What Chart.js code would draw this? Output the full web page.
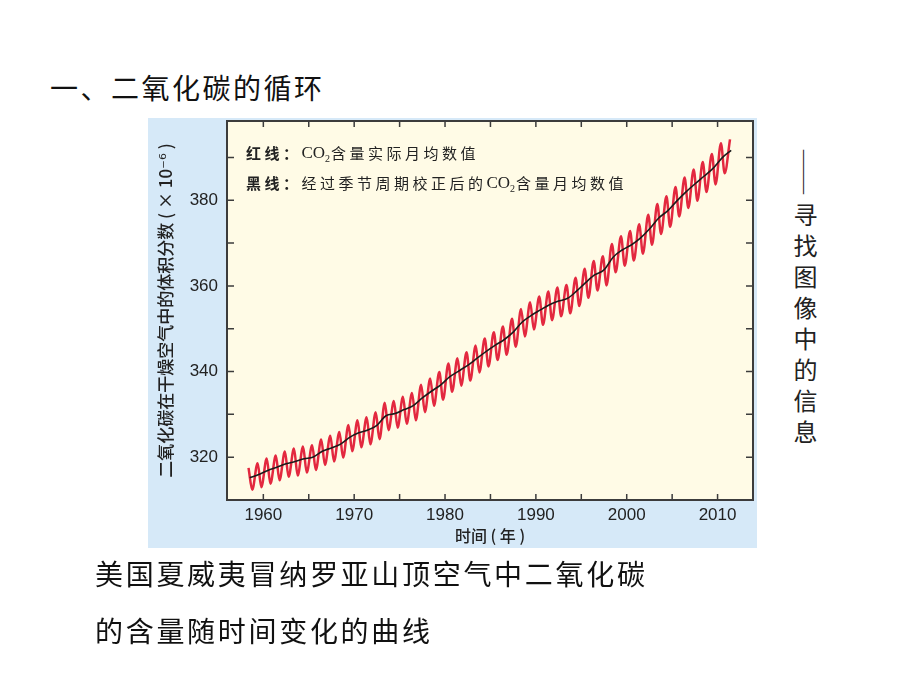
<!DOCTYPE html>
<html lang="zh">
<head>
<meta charset="utf-8">
<title>二氧化碳的循环</title>
<script src="https://cdn.jsdelivr.net/npm/chart.js@4.4.1/dist/chart.umd.min.js"></script>
<style>
  body { margin: 0; width: 920px; height: 690px; background: #fff; position: relative; overflow: hidden;
         font-family: "Noto Sans CJK SC", sans-serif; color: #111; }
  #title { position: absolute; left: 50px; top: 68px; font-size: 28px; letter-spacing: 2.5px; line-height: 38px; white-space: nowrap; }
  #panel { position: absolute; left: 148px; top: 118px; width: 609px; height: 430px; background: #d6e9f8; }
  #side { position: absolute; left: 788px; top: 148px; writing-mode: vertical-rl; font-size: 24px;
          letter-spacing: 7px; color: #222; white-space: nowrap; }
  #caption { position: absolute; left: 95px; top: 545px; font-size: 28px; letter-spacing: 2.7px; line-height: 57px; white-space: nowrap; }
</style>
</head>
<body>
<div id="title">一、二氧化碳的循环</div>
<div id="panel"><canvas id="co2Chart" width="609" height="430"></canvas></div>
<div id="side">——寻找图像中的信息</div>
<div id="caption">美国夏威夷冒纳罗亚山顶空气中二氧化碳<br>的含量随时间变化的曲线</div>

<script>
// 年份（每年一个季节峰值、一个谷值，黑线为年均值）
const years = [1958, 1959, 1960, 1961, 1962, 1963, 1964, 1965, 1966, 1967,
  1968, 1969, 1970, 1971, 1972, 1973, 1974, 1975, 1976, 1977,
  1978, 1979, 1980, 1981, 1982, 1983, 1984, 1985, 1986, 1987,
  1988, 1989, 1990, 1991, 1992, 1993, 1994, 1995, 1996, 1997,
  1998, 1999, 2000, 2001, 2002, 2003, 2004, 2005, 2006, 2007,
  2008, 2009, 2010, 2011];

// 黑线：季节校正后的数值
const annualMean = [315.2, 315.97, 316.91, 317.64, 318.45, 318.99, 319.62, 320.04, 321.38, 322.16,
  323.04, 324.62, 325.68, 326.32, 327.45, 329.68, 330.18, 331.11, 332.04, 333.83,
  335.40, 336.84, 338.75, 340.11, 341.45, 343.05, 344.65, 346.12, 347.42, 349.19,
  351.57, 353.12, 354.39, 355.61, 356.45, 357.10, 358.83, 360.82, 362.61, 363.73,
  366.70, 368.38, 369.55, 371.14, 373.28, 375.80, 377.52, 379.80, 381.90, 383.79,
  385.60, 387.43, 389.90, 391.65];

// 红线：春季峰值（约5月）和秋季谷值（约10月）
const mayPeak = [317.5, 318.6, 319.7, 320.4, 321.3, 322.0, 322.5, 322.8, 324.1, 325.0,
  325.9, 327.5, 328.6, 329.3, 330.5, 332.7, 333.1, 334.1, 335.0, 336.9,
  338.4, 339.9, 341.9, 343.1, 344.5, 346.1, 347.7, 349.2, 350.5, 352.3,
  354.6, 356.2, 357.5, 358.7, 359.6, 360.2, 361.9, 364.0, 365.8, 366.9,
  369.8, 371.6, 372.8, 374.4, 376.6, 379.1, 380.9, 383.1, 385.3, 387.2,
  388.9, 390.8, 393.3, 394.2];
const autumnLow = [312.4, 313.0, 313.8, 314.6, 315.4, 315.7, 316.4, 317.0, 318.2, 319.0,
  319.9, 321.4, 322.3, 323.0, 324.2, 326.3, 326.9, 327.8, 328.6, 330.5,
  332.0, 333.4, 335.3, 336.7, 337.9, 339.8, 341.2, 342.7, 343.9, 345.8,
  348.2, 349.8, 350.9, 352.0, 352.9, 353.6, 355.3, 357.2, 358.9, 360.1,
  363.2, 364.7, 365.9, 367.5, 369.6, 372.1, 373.8, 376.2, 378.2, 379.9,
  381.9, 383.7, 386.3];

const xLabels = [1960, 1970, 1980, 1990, 2000, 2010];
const xMinor = [1965, 1975, 1985, 1995, 2005];
const yLabels = [320, 340, 360, 380];
const yMinor = [330, 350, 370, 390];

const cjk = '"Noto Sans CJK SC", "DejaVu Sans", sans-serif';
const latin = '"Liberation Sans", Arial, sans-serif';

const redData = [];
years.forEach((y, i) => {
  redData.push({ x: y + 0.37, y: mayPeak[i] });
  if (i < autumnLow.length) redData.push({ x: y + 0.78, y: autumnLow[i] });
});
const blackData = years.map((y, i) => ({ x: y + 0.5, y: annualMean[i] }));

// 图例文字（字间距较大）
const legendLines = [
  [['红线：', 'b'], ['CO', 'l'], ['2', 's'], ['含量实际月均数值', 'n']],
  [['黑线：', 'b'], ['经过季节周期校正后的', 'n'], ['CO', 'l'], ['2', 's'], ['含量月均数值', 'n']]
];

const framePlugin = {
  id: 'frame',
  beforeDraw(chart) {
    const { ctx, chartArea: a } = chart;
    ctx.save();
    ctx.fillStyle = '#fffbe6';
    ctx.fillRect(a.left, a.top, a.right - a.left, a.bottom - a.top);
    ctx.restore();
  },
  afterDraw(chart) {
    const { ctx, chartArea: a, scales } = chart;
    ctx.save();
    ctx.strokeStyle = '#3c3c3c';
    ctx.lineWidth = 1.5;
    // 刻度线朝内
    [...xLabels, ...xMinor].forEach(v => {
      const px = scales.x.getPixelForValue(v);
      ctx.beginPath();
      ctx.moveTo(px, a.bottom); ctx.lineTo(px, a.bottom - 6);
      ctx.moveTo(px, a.top); ctx.lineTo(px, a.top + 6);
      ctx.stroke();
    });
    [...yLabels, ...yMinor].forEach(v => {
      const py = scales.y.getPixelForValue(v);
      ctx.beginPath();
      ctx.moveTo(a.left, py); ctx.lineTo(a.left + 7, py);
      ctx.moveTo(a.right, py); ctx.lineTo(a.right - 7, py);
      ctx.stroke();
    });
    ctx.lineWidth = 2;
    ctx.strokeRect(a.left, a.top, a.right - a.left, a.bottom - a.top);

    // 图例
    ctx.fillStyle = '#222';
    ctx.textBaseline = 'middle';
    legendLines.forEach((line, li) => {
      let x = a.left + 19;
      const y = a.top + 32 + li * 30;
      line.forEach(([txt, kind]) => {
        if (kind === 'l') {
          ctx.font = '17px "Liberation Serif", serif';
          ctx.fillText(txt, x, y + 1);
          x += ctx.measureText(txt).width;
        } else if (kind === 's') {
          ctx.font = '10px "Liberation Serif", serif';
          ctx.fillText(txt, x, y + 6);
          x += ctx.measureText(txt).width + 1;
        } else {
          ctx.font = (kind === 'b' ? 'bold ' : '') + '15px ' + cjk;
          for (const ch of txt) {
            ctx.fillText(ch, x, y);
            x += ctx.measureText(ch).width + 3.5;
          }
        }
      });
    });
    ctx.restore();
  }
};

new Chart(document.getElementById('co2Chart'), {
  type: 'line',
  data: {
    datasets: [
      {
        label: '黑线',
        data: blackData,
        borderColor: '#1b1b1b',
        borderWidth: 1.6,
        pointRadius: 0,
        cubicInterpolationMode: 'monotone',
        order: 0
      },
      {
        label: '红线',
        data: redData,
        borderColor: '#e3283f',
        borderWidth: 2.5,
        pointRadius: 0,
        cubicInterpolationMode: 'monotone',
        order: 1
      }
    ]
  },
  options: {
    responsive: false,
    animation: false,
    layout: { padding: { left: 0, top: 3, right: 4, bottom: 0 } },
    plugins: { legend: { display: false }, tooltip: { enabled: false } },
    scales: {
      x: {
        type: 'linear',
        min: 1956,
        max: 2013.9,
        afterFit: s => { s.height = 48; s.paddingLeft = 0; s.paddingRight = 0; },
        afterBuildTicks: s => { s.ticks = xLabels.map(v => ({ value: v })); },
        grid: { display: false, drawTicks: false },
        border: { display: false },
        ticks: { color: '#222', font: { size: 17, family: latin }, padding: 5, maxRotation: 0, autoSkip: false,
                 callback: v => String(v) },
        title: { display: true, text: '时间 ( 年 )', color: '#222',
                 font: { size: 16, weight: '500', family: cjk }, padding: { top: 0, bottom: 2 } }
      },
      y: {
        min: 310,
        max: 398.5,
        afterFit: s => { s.width = 79; s.paddingTop = 0; s.paddingBottom = 0; },
        afterBuildTicks: s => { s.ticks = yLabels.map(v => ({ value: v })); },
        grid: { display: false, drawTicks: false },
        border: { display: false },
        ticks: { color: '#222', font: { size: 17, family: latin }, padding: 9, callback: v => String(v) },
        title: { display: true, text: '二氧化碳在干燥空气中的体积分数 ( × 10⁻⁶ )', color: '#222',
                 font: { size: 17, weight: '500', family: cjk }, padding: { top: 7, bottom: 0 } }
      }
    }
  },
  plugins: [framePlugin]
});
</script>
</body>
</html>
